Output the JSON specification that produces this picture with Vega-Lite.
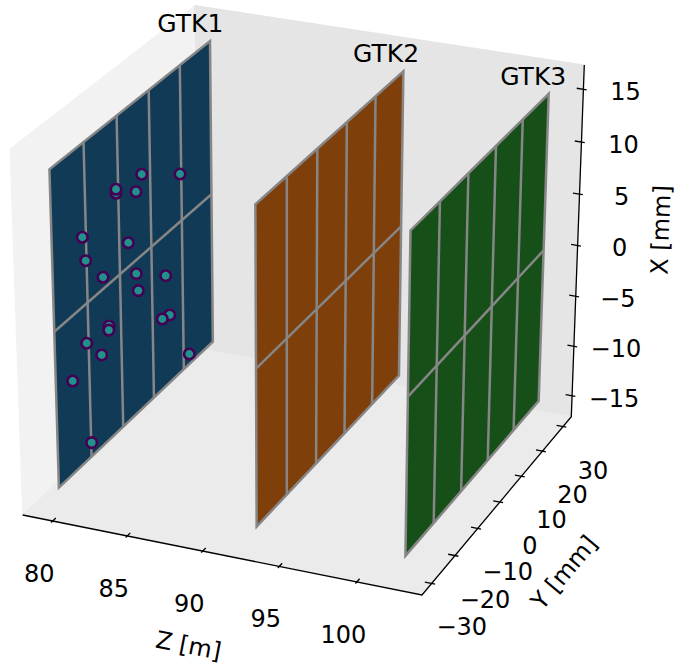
{
  "$schema": "https://vega.github.io/schema/vega-lite/v6.json",
  "width": 676,
  "height": 666,
  "autosize": "none",
  "padding": 0,
  "background": "white",
  "config": {"view": {"stroke": null}, "font": "DejaVu Sans"},
  "data": {
    "values": [
      {"kind": "pane", "face": "left", "k": 0, "Z": 77.97, "Y": -34.1, "X": -17.14},
      {"kind": "pane", "face": "left", "k": 1, "Z": 77.97, "Y": 34.1, "X": -17.14},
      {"kind": "pane", "face": "left", "k": 2, "Z": 77.97, "Y": 34.1, "X": 17.28},
      {"kind": "pane", "face": "left", "k": 3, "Z": 77.97, "Y": -34.1, "X": 17.28},
      {"kind": "pane", "face": "back", "k": 0, "Z": 77.97, "Y": 34.1, "X": -17.14},
      {"kind": "pane", "face": "back", "k": 1, "Z": 104.15, "Y": 34.1, "X": -17.14},
      {"kind": "pane", "face": "back", "k": 2, "Z": 104.15, "Y": 34.1, "X": 17.28},
      {"kind": "pane", "face": "back", "k": 3, "Z": 77.97, "Y": 34.1, "X": 17.28},
      {"kind": "pane", "face": "floor", "k": 0, "Z": 77.97, "Y": -34.1, "X": -17.14},
      {"kind": "pane", "face": "floor", "k": 1, "Z": 104.15, "Y": -34.1, "X": -17.14},
      {"kind": "pane", "face": "floor", "k": 2, "Z": 104.15, "Y": 34.1, "X": -17.14},
      {"kind": "pane", "face": "floor", "k": 3, "Z": 77.97, "Y": 34.1, "X": -17.14},

      {"kind": "axisline", "k": 0, "Z": 77.97, "Y": -34.1, "X": -17.14},
      {"kind": "axisline", "k": 1, "Z": 104.15, "Y": -34.1, "X": -17.14},
      {"kind": "axisline", "k": 2, "Z": 104.15, "Y": 34.1, "X": -17.14},
      {"kind": "axisline", "k": 3, "Z": 104.15, "Y": 34.1, "X": 17.28},

      {"kind": "plane", "det": "GTK1", "k": 0, "Z": 79.7, "Y": -30, "X": -15},
      {"kind": "plane", "det": "GTK1", "k": 1, "Z": 79.7, "Y": 30, "X": -15},
      {"kind": "plane", "det": "GTK1", "k": 2, "Z": 79.7, "Y": 30, "X": 15},
      {"kind": "plane", "det": "GTK1", "k": 3, "Z": 79.7, "Y": -30, "X": 15},
      {"kind": "plane", "det": "GTK2", "k": 0, "Z": 92.85, "Y": -30, "X": -15},
      {"kind": "plane", "det": "GTK2", "k": 1, "Z": 92.85, "Y": 30, "X": -15},
      {"kind": "plane", "det": "GTK2", "k": 2, "Z": 92.85, "Y": 30, "X": 15},
      {"kind": "plane", "det": "GTK2", "k": 3, "Z": 92.85, "Y": -30, "X": 15},
      {"kind": "plane", "det": "GTK3", "k": 0, "Z": 102.45, "Y": -30, "X": -15},
      {"kind": "plane", "det": "GTK3", "k": 1, "Z": 102.45, "Y": 30, "X": -15},
      {"kind": "plane", "det": "GTK3", "k": 2, "Z": 102.45, "Y": 30, "X": 15},
      {"kind": "plane", "det": "GTK3", "k": 3, "Z": 102.45, "Y": -30, "X": 15},

      {"kind": "grid", "seg": "GTK1 y-18", "k": 0, "Z": 79.7, "Y": -18, "X": -15},
      {"kind": "grid", "seg": "GTK1 y-18", "k": 1, "Z": 79.7, "Y": -18, "X": 15},
      {"kind": "grid", "seg": "GTK1 y-6", "k": 0, "Z": 79.7, "Y": -6, "X": -15},
      {"kind": "grid", "seg": "GTK1 y-6", "k": 1, "Z": 79.7, "Y": -6, "X": 15},
      {"kind": "grid", "seg": "GTK1 y6", "k": 0, "Z": 79.7, "Y": 6, "X": -15},
      {"kind": "grid", "seg": "GTK1 y6", "k": 1, "Z": 79.7, "Y": 6, "X": 15},
      {"kind": "grid", "seg": "GTK1 y18", "k": 0, "Z": 79.7, "Y": 18, "X": -15},
      {"kind": "grid", "seg": "GTK1 y18", "k": 1, "Z": 79.7, "Y": 18, "X": 15},
      {"kind": "grid", "seg": "GTK1 x0", "k": 0, "Z": 79.7, "Y": -30, "X": 0},
      {"kind": "grid", "seg": "GTK1 x0", "k": 1, "Z": 79.7, "Y": 30, "X": 0},
      {"kind": "grid", "seg": "GTK2 y-18", "k": 0, "Z": 92.85, "Y": -18, "X": -15},
      {"kind": "grid", "seg": "GTK2 y-18", "k": 1, "Z": 92.85, "Y": -18, "X": 15},
      {"kind": "grid", "seg": "GTK2 y-6", "k": 0, "Z": 92.85, "Y": -6, "X": -15},
      {"kind": "grid", "seg": "GTK2 y-6", "k": 1, "Z": 92.85, "Y": -6, "X": 15},
      {"kind": "grid", "seg": "GTK2 y6", "k": 0, "Z": 92.85, "Y": 6, "X": -15},
      {"kind": "grid", "seg": "GTK2 y6", "k": 1, "Z": 92.85, "Y": 6, "X": 15},
      {"kind": "grid", "seg": "GTK2 y18", "k": 0, "Z": 92.85, "Y": 18, "X": -15},
      {"kind": "grid", "seg": "GTK2 y18", "k": 1, "Z": 92.85, "Y": 18, "X": 15},
      {"kind": "grid", "seg": "GTK2 x0", "k": 0, "Z": 92.85, "Y": -30, "X": 0},
      {"kind": "grid", "seg": "GTK2 x0", "k": 1, "Z": 92.85, "Y": 30, "X": 0},
      {"kind": "grid", "seg": "GTK3 y-18", "k": 0, "Z": 102.45, "Y": -18, "X": -15},
      {"kind": "grid", "seg": "GTK3 y-18", "k": 1, "Z": 102.45, "Y": -18, "X": 15},
      {"kind": "grid", "seg": "GTK3 y-6", "k": 0, "Z": 102.45, "Y": -6, "X": -15},
      {"kind": "grid", "seg": "GTK3 y-6", "k": 1, "Z": 102.45, "Y": -6, "X": 15},
      {"kind": "grid", "seg": "GTK3 y6", "k": 0, "Z": 102.45, "Y": 6, "X": -15},
      {"kind": "grid", "seg": "GTK3 y6", "k": 1, "Z": 102.45, "Y": 6, "X": 15},
      {"kind": "grid", "seg": "GTK3 y18", "k": 0, "Z": 102.45, "Y": 18, "X": -15},
      {"kind": "grid", "seg": "GTK3 y18", "k": 1, "Z": 102.45, "Y": 18, "X": 15},
      {"kind": "grid", "seg": "GTK3 x0", "k": 0, "Z": 102.45, "Y": -30, "X": 0},
      {"kind": "grid", "seg": "GTK3 x0", "k": 1, "Z": 102.45, "Y": 30, "X": 0},

      {"kind": "name", "det": "GTK1", "Z": 79.7},
      {"kind": "name", "det": "GTK2", "Z": 92.85},
      {"kind": "name", "det": "GTK3", "Z": 102.45},

      {"kind": "tick", "axis": "Z", "value": 80},
      {"kind": "tick", "axis": "Z", "value": 85},
      {"kind": "tick", "axis": "Z", "value": 90},
      {"kind": "tick", "axis": "Z", "value": 95},
      {"kind": "tick", "axis": "Z", "value": 100},
      {"kind": "tick", "axis": "Y", "value": -30},
      {"kind": "tick", "axis": "Y", "value": -20},
      {"kind": "tick", "axis": "Y", "value": -10},
      {"kind": "tick", "axis": "Y", "value": 0},
      {"kind": "tick", "axis": "Y", "value": 10},
      {"kind": "tick", "axis": "Y", "value": 20},
      {"kind": "tick", "axis": "Y", "value": 30},
      {"kind": "tick", "axis": "X", "value": -15},
      {"kind": "tick", "axis": "X", "value": -10},
      {"kind": "tick", "axis": "X", "value": -5},
      {"kind": "tick", "axis": "X", "value": 0},
      {"kind": "tick", "axis": "X", "value": 5},
      {"kind": "tick", "axis": "X", "value": 10},
      {"kind": "tick", "axis": "X", "value": 15},

      {"kind": "title", "axis": "Z", "value": 91.06, "label": "Z [m]"},
      {"kind": "title", "axis": "Y", "value": 0, "label": "Y [mm]"},
      {"kind": "title", "axis": "X", "value": 0.07, "label": "X [mm]"},

      {"kind": "hit", "det": "GTK1", "Z": 79.7, "Y": 2.83, "X": 7.68},
      {"kind": "hit", "det": "GTK1", "Z": 79.7, "Y": 17.52, "X": 4.63},
      {"kind": "hit", "det": "GTK1", "Z": 79.7, "Y": -6.82, "X": 7.91},
      {"kind": "hit", "det": "GTK1", "Z": 79.7, "Y": -6.79, "X": 8.28},
      {"kind": "hit", "det": "GTK1", "Z": 79.7, "Y": 0.57, "X": 6.49},
      {"kind": "hit", "det": "GTK1", "Z": 79.7, "Y": -19.3, "X": 6.46},
      {"kind": "hit", "det": "GTK1", "Z": 79.7, "Y": -2.67, "X": 2.3},
      {"kind": "hit", "det": "GTK1", "Z": 79.7, "Y": -18.3, "X": 4.04},
      {"kind": "hit", "det": "GTK1", "Z": 79.7, "Y": -12.24, "X": 1.11},
      {"kind": "hit", "det": "GTK1", "Z": 79.7, "Y": 0.1, "X": -1.31},
      {"kind": "hit", "det": "GTK1", "Z": 79.7, "Y": 11.35, "X": -4.03},
      {"kind": "hit", "det": "GTK1", "Z": 79.7, "Y": 0.73, "X": -3.11},
      {"kind": "hit", "det": "GTK1", "Z": 79.7, "Y": -10.46, "X": -3.99},
      {"kind": "hit", "det": "GTK1", "Z": 79.7, "Y": -10.55, "X": -4.37},
      {"kind": "hit", "det": "GTK1", "Z": 79.7, "Y": 12.69, "X": -8.25},
      {"kind": "hit", "det": "GTK1", "Z": 79.7, "Y": 9.76, "X": -7.98},
      {"kind": "hit", "det": "GTK1", "Z": 79.7, "Y": -18.7, "X": -3.74},
      {"kind": "hit", "det": "GTK1", "Z": 79.7, "Y": -13.38, "X": -6.13},
      {"kind": "hit", "det": "GTK1", "Z": 79.7, "Y": 20.29, "X": -13.98},
      {"kind": "hit", "det": "GTK1", "Z": 79.7, "Y": -24.05, "X": -6.11},
      {"kind": "hit", "det": "GTK1", "Z": 79.7, "Y": -17.81, "X": -13.66}
    ]
  },
  "transform": [
    {"calculate": "datum.axis === 'Z' ? datum.value : datum.axis ? 104.15 : datum.Z", "as": "Zp"},
    {"calculate": "datum.axis === 'Y' ? datum.value : datum.axis === 'Z' ? -34.1 : datum.axis === 'X' ? 34.1 : datum.kind === 'name' ? 22.3 : datum.Y", "as": "Yp"},
    {"calculate": "datum.axis === 'X' ? datum.value : datum.axis ? -17.14 : datum.kind === 'name' ? 18.1 : datum.X", "as": "Xp"},
    {"calculate": "(datum.Zp - 77.97) / 26.18", "as": "u"},
    {"calculate": "(datum.Yp + 34.1) / 68.2", "as": "v"},
    {"calculate": "(datum.Xp + 17.14) / 34.42", "as": "w"},
    {"calculate": "1 - 0.03426 * datum.u + 0.08589 * datum.v - 0.04592 * datum.w", "as": "h"},
    {"calculate": "(22.7 + 384.84 * datum.u + 193.25 * datum.v - 13.16 * datum.w) / datum.h", "as": "sx"},
    {"calculate": "(515 + 59.62 * datum.u - 136.4 * datum.v - 372.84 * datum.w) / datum.h", "as": "sy"},
    {"calculate": "datum.kind === 'pane' ? datum.face : datum.det", "as": "surface"}
  ],
  "encoding": {
    "x": {"field": "sx", "type": "quantitative", "scale": {"domain": [0, 676], "nice": false, "zero": false}, "axis": null},
    "y": {"field": "sy", "type": "quantitative", "scale": {"domain": [0, 666], "nice": false, "zero": false, "reverse": true}, "axis": null}
  },
  "layer": [
    {
      "transform": [{"filter": "datum.kind === 'pane'"}],
      "mark": {"type": "line", "interpolate": "linear-closed", "strokeWidth": 1},
      "encoding": {
        "detail": {"field": "surface"},
        "order": {"field": "k", "type": "quantitative"},
        "fill": {"field": "surface", "type": "nominal", "scale": {"domain": ["left", "back", "floor", "GTK1", "GTK2", "GTK3"], "range": ["#f2f2f2", "#e5e5e5", "#ebebeb", "#113a57", "#7f3f0b", "#174f18"]}, "legend": null},
        "stroke": {"field": "surface", "type": "nominal", "scale": {"domain": ["left", "back", "floor"], "range": ["#f2f2f2", "#e5e5e5", "#ebebeb"]}, "legend": null}
      }
    },
    {
      "transform": [{"filter": "datum.kind === 'axisline'"}],
      "mark": {"type": "line", "color": "black", "strokeWidth": 1.3},
      "encoding": {"order": {"field": "k", "type": "quantitative"}}
    },
    {
      "transform": [
        {"filter": "datum.kind === 'tick'"},
        {"calculate": "datum.u + (datum.axis === 'Z' ? 0 : 0.00833)", "as": "ua"},
        {"calculate": "datum.v - (datum.axis === 'Z' ? 0.00833 : 0)", "as": "va"},
        {"calculate": "datum.u - (datum.axis === 'Z' ? 0 : 0.01667)", "as": "ub"},
        {"calculate": "datum.v + (datum.axis === 'Z' ? 0.01667 : 0)", "as": "vb"},
        {"calculate": "1 - 0.03426 * datum.ua + 0.08589 * datum.va - 0.04592 * datum.w", "as": "ha"},
        {"calculate": "1 - 0.03426 * datum.ub + 0.08589 * datum.vb - 0.04592 * datum.w", "as": "hb"},
        {"calculate": "(22.7 + 384.84 * datum.ua + 193.25 * datum.va - 13.16 * datum.w) / datum.ha", "as": "xa"},
        {"calculate": "(515 + 59.62 * datum.ua - 136.4 * datum.va - 372.84 * datum.w) / datum.ha", "as": "ya"},
        {"calculate": "(22.7 + 384.84 * datum.ub + 193.25 * datum.vb - 13.16 * datum.w) / datum.hb", "as": "xb"},
        {"calculate": "(515 + 59.62 * datum.ub - 136.4 * datum.vb - 372.84 * datum.w) / datum.hb", "as": "yb"}
      ],
      "mark": {"type": "rule", "color": "black", "strokeWidth": 1.3},
      "encoding": {
        "x": {"field": "xa", "type": "quantitative"},
        "y": {"field": "ya", "type": "quantitative"},
        "x2": {"field": "xb"},
        "y2": {"field": "yb"}
      }
    },
    {
      "transform": [{"filter": "datum.kind === 'plane'"}],
      "mark": {"type": "line", "interpolate": "linear-closed", "stroke": "#868686", "strokeWidth": 2.5, "strokeJoin": "miter"},
      "encoding": {
        "detail": {"field": "surface"},
        "order": {"field": "k", "type": "quantitative"},
        "fill": {"field": "surface", "type": "nominal", "scale": {"domain": ["left", "back", "floor", "GTK1", "GTK2", "GTK3"], "range": ["#f2f2f2", "#e5e5e5", "#ebebeb", "#113a57", "#7f3f0b", "#174f18"]}, "legend": null}
      }
    },
    {
      "transform": [{"filter": "datum.kind === 'grid'"}],
      "mark": {"type": "line", "stroke": "#868686", "strokeWidth": 2.5},
      "encoding": {
        "detail": {"field": "seg"},
        "order": {"field": "k", "type": "quantitative"}
      }
    },
    {
      "transform": [{"filter": "datum.kind === 'hit'"}],
      "mark": {"type": "point", "filled": true, "fill": "#21918c", "stroke": "#440154", "strokeWidth": 2.6, "size": 110, "opacity": 1}
    },
    {
      "transform": [{"filter": "datum.kind === 'name'"}],
      "mark": {"type": "text", "fontSize": 25, "align": "center", "baseline": "middle", "color": "black"},
      "encoding": {"text": {"field": "det"}}
    },
    {
      "transform": [{"filter": "datum.kind === 'tick' && datum.axis === 'Z'"}],
      "mark": {"type": "text", "fontSize": 24, "align": "center", "baseline": "middle", "dx": -13.5, "dy": 54, "color": "black"},
      "encoding": {"text": {"field": "value", "type": "quantitative", "format": "d"}}
    },
    {
      "transform": [{"filter": "datum.kind === 'tick' && datum.axis === 'Y'"}],
      "mark": {"type": "text", "fontSize": 24, "align": "center", "baseline": "middle", "dx": 30, "dy": 45, "color": "black"},
      "encoding": {"text": {"field": "value", "type": "quantitative", "format": "d"}}
    },
    {
      "transform": [{"filter": "datum.kind === 'tick' && datum.axis === 'X'"}],
      "mark": {"type": "text", "fontSize": 24, "align": "center", "baseline": "middle", "dx": 42, "dy": 4, "color": "black"},
      "encoding": {"text": {"field": "value", "type": "quantitative", "format": "d"}}
    },
    {
      "transform": [{"filter": "datum.kind === 'title' && datum.axis === 'Z'"}],
      "mark": {"type": "text", "fontSize": 24, "align": "center", "baseline": "middle", "angle": 11, "dx": -12.4, "dy": 96.5, "color": "black"},
      "encoding": {"text": {"field": "label"}}
    },
    {
      "transform": [{"filter": "datum.kind === 'title' && datum.axis === 'Y'"}],
      "mark": {"type": "text", "fontSize": 24, "align": "center", "baseline": "middle", "angle": 310, "dx": -12.6, "dy": 95.7, "color": "black"},
      "encoding": {"text": {"field": "label"}}
    },
    {
      "transform": [{"filter": "datum.kind === 'title' && datum.axis === 'X'"}],
      "mark": {"type": "text", "fontSize": 24, "align": "center", "baseline": "middle", "angle": 272, "dx": 17.7, "dy": 83.8, "color": "black"},
      "encoding": {"text": {"field": "label"}}
    }
  ]
}
